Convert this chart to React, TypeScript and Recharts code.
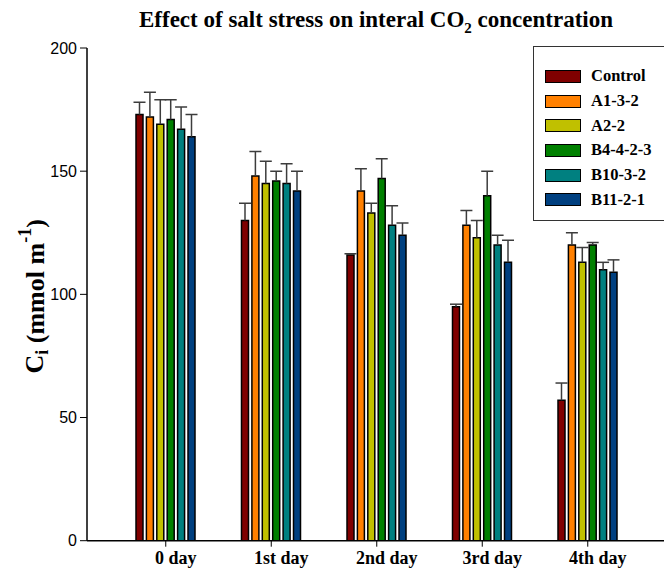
import React from 'react';
import { BarChart, Bar, XAxis, YAxis, Legend } from 'recharts';

const categories = ['0 day', '1st day', '2nd day', '3rd day', '4th day'];
const seriesNames = ['Control', 'A1-3-2', 'A2-2', 'B4-4-2-3', 'B10-3-2', 'B11-2-1'];
const seriesColors = ['#800000', '#ff8000', '#c0c000', '#008000', '#008080', '#004080'];

const controlValues = [173, 130, 116, 95, 57];
const controlErrors = [5, 7, 0.5, 1, 7];
const a132Values = [172, 148, 142, 128, 120];
const a132Errors = [10, 10, 9, 6, 5];
const a22Values = [169, 145, 133, 123, 113];
const a22Errors = [10, 9, 4, 7, 6];
const b4423Values = [171, 146, 147, 140, 120];
const b4423Errors = [8, 4, 8, 10, 1];
const b1032Values = [167, 145, 128, 120, 110];
const b1032Errors = [9, 8, 8, 4, 3];
const b1121Values = [164, 142, 124, 113, 109];
const b1121Errors = [9, 8, 5, 9, 5];

const yTicks = [0, 50, 100, 150, 200];

const seriesValues = [controlValues, a132Values, a22Values, b4423Values, b1032Values, b1121Values];
const seriesErrors = [controlErrors, a132Errors, a22Errors, b4423Errors, b1032Errors, b1121Errors];

const data = categories.map((day, i) => {
  const row: Record<string, string | number> = { day };
  seriesNames.forEach((_, s) => {
    row[`v${s}`] = seriesValues[s][i];
    row[`e${s}`] = seriesErrors[s][i];
  });
  return row;
});

const SERIF = '"Liberation Serif", "Times New Roman", serif';
const SANS = '"Liberation Sans", Arial, sans-serif';

const Whisker = (props: any) => {
  const { x, y, width, height } = props;
  if (x == null || y == null) return null;
  const cx = x + width / 2;
  return (
    <g>
      <line x1={cx} y1={y + height} x2={cx} y2={y} stroke="#3c3c3c" strokeWidth={1.5} />
      <line x1={cx - 6} y1={y} x2={cx + 6} y2={y} stroke="#3c3c3c" strokeWidth={1.5} />
    </g>
  );
};

const DayTick = (props: any) => {
  const { x, y, payload } = props;
  return (
    <text x={x + 10} y={y} dy={15} textAnchor="middle" fontFamily={SERIF} fontWeight="bold" fontSize={18} fill="#000">
      {payload.value}
    </text>
  );
};

const YLabel = (props: any) => {
  const vb = props.viewBox || { x: 0, y: 48, width: 87, height: 492 };
  const cx = 35;
  const cy = vb.y + vb.height / 2 + 2;
  return (
    <text
      x={cx}
      y={cy}
      transform={`rotate(-90 ${cx} ${cy})`}
      textAnchor="middle"
      dominantBaseline="central"
      fontFamily={SERIF}
      fontWeight="bold"
      fontSize={26}
      fill="#000"
    >
      C<tspan fontSize={18} dy={7}>i</tspan>
      <tspan dy={-7}> (mmol m</tspan>
      <tspan fontSize={18} dy={-10}>-1</tspan>
      <tspan dy={10}>)</tspan>
    </text>
  );
};

const LegendBox = () => (
  <div
    style={{
      border: '1.5px solid #333',
      width: 150,
      height: 175,
      boxSizing: 'border-box',
      paddingTop: 17,
      paddingLeft: 11,
      background: '#fff',
    }}
  >
    {seriesNames.map((name, s) => (
      <div key={name} style={{ display: 'flex', alignItems: 'center', height: 24.7 }}>
        <span
          style={{
            display: 'inline-block',
            width: 36,
            height: 13,
            background: seriesColors[s],
            border: '1.5px solid #000',
            boxSizing: 'border-box',
            marginRight: 10,
          }}
        />
        <span style={{ fontFamily: SERIF, fontWeight: 'bold', fontSize: 16.5, color: '#000' }}>{name}</span>
      </div>
    ))}
  </div>
);

export default function App() {
  return (
    <div style={{ position: 'absolute', left: 0, top: 0, width: 664, height: 571, background: '#fff', overflow: 'hidden' }}>
      <div
        style={{
          position: 'absolute',
          left: 80,
          width: 592,
          top: 7,
          textAlign: 'center',
          fontFamily: SERIF,
          fontWeight: 'bold',
          fontSize: 23,
          lineHeight: '26px',
          color: '#000',
          zIndex: 2,
          whiteSpace: 'nowrap',
        }}
      >
        Effect of salt stress on interal CO<sub style={{ fontSize: 15, verticalAlign: '-6px', lineHeight: 0 }}>2</sub> concentration
      </div>
      <BarChart
        width={664}
        height={571}
        data={data}
        margin={{ top: 48, right: 0, bottom: 0, left: 0 }}
        barSize={7}
        barGap={3.4}
      >
        <XAxis
          dataKey="day"
          height={30.3}
          padding={{ left: 26, right: 23.5 }}
          axisLine={{ stroke: '#000', strokeWidth: 1.5 }}
          tickLine={{ stroke: '#000', strokeWidth: 1 }}
          tickSize={6}
          tickMargin={2}
          tick={<DayTick />}
          interval={0}
        />
        <YAxis
          width={87}
          domain={[0, 200]}
          ticks={yTicks}
          allowDataOverflow
          axisLine={{ stroke: '#000', strokeWidth: 1.5 }}
          tickLine={{ stroke: '#000', strokeWidth: 1 }}
          tickSize={7}
          tickMargin={3}
          tick={{ fontFamily: SANS, fontSize: 16, fill: '#000' }}
          label={<YLabel />}
        />
        <Legend
          layout="horizontal"
          verticalAlign="middle"
          align="center"
          wrapperStyle={{ position: 'absolute', left: 533, top: 46, width: 150, height: 175 }}
          content={<LegendBox />}
        />
        {seriesNames.map((name, s) => (
          <Bar
            key={`v${s}`}
            dataKey={`v${s}`}
            name={name}
            stackId={`s${s}`}
            fill={seriesColors[s]}
            stroke="#000"
            strokeWidth={1.5}
            isAnimationActive={false}
          />
        ))}
        {seriesNames.map((name, s) => (
          <Bar
            key={`e${s}`}
            dataKey={`e${s}`}
            name={`${name} error`}
            stackId={`s${s}`}
            fill="none"
            legendType="none"
            shape={<Whisker />}
            isAnimationActive={false}
          />
        ))}
      </BarChart>
    </div>
  );
}
